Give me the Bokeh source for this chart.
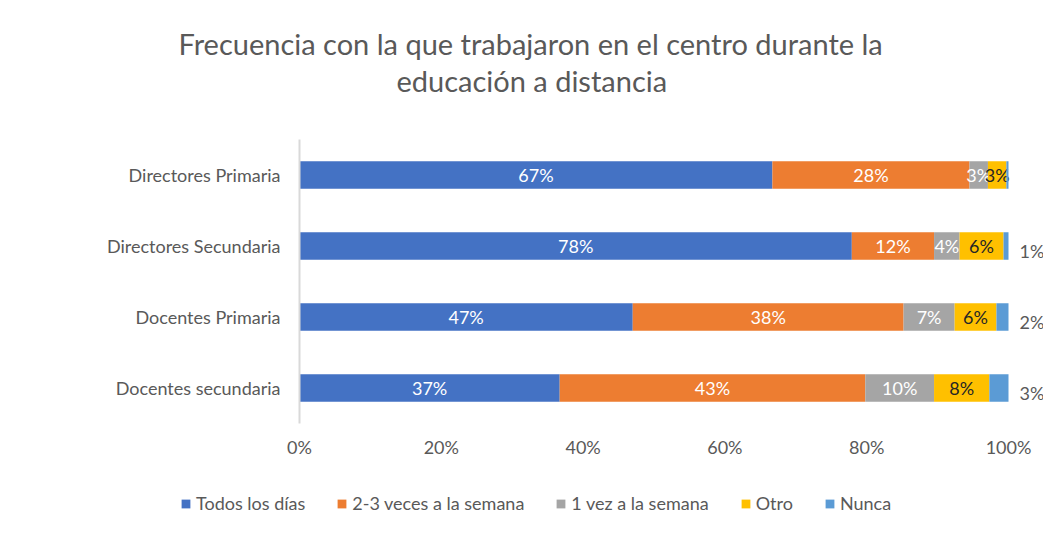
from bokeh.plotting import figure
from bokeh.layouts import column
from bokeh.models import (ColumnDataSource, FactorRange, Range1d, FixedTicker, Legend,
                          LegendItem, Title, CustomJSTickFormatter)
from bokeh.core.properties import value
from bokeh.embed import file_html
from bokeh.resources import INLINE

categories = ["Directores Primaria", "Directores Secundaria", "Docentes Primaria", "Docentes secundaria"]
series = ["Todos los días", "2-3 veces a la semana", "1 vez a la semana", "Otro", "Nunca"]
todos = [66.7, 77.9, 47.0, 36.7]
veces23 = [27.8, 11.6, 38.2, 43.1]
vez1 = [2.6, 3.6, 7.2, 9.7]
otro = [2.6, 6.2, 5.9, 7.8]
nunca = [0.3, 0.7, 1.7, 2.7]
title_lines = ["Frecuencia con la que trabajaron en el centro durante la", "educación a distancia"]
xticks = [0, 20, 40, 60, 80, 100]

colors = ["#4472C4", "#ED7D31", "#A5A5A5", "#FFC000", "#5B9BD5"]
label_colors = ["#FFFFFF", "#FFFFFF", "#FFFFFF", "#262626", "#595959"]
FONT = "Lato"
FS = "18px"

W, H1, H2 = 1043, 480, 53
left, top, bottom = 299, 139, 57
px_per_unit = 709 / 100.0

p = figure(width=W, height=H1, output_backend="svg", toolbar_location=None,
           y_range=FactorRange(factors=list(reversed(categories))),
           x_range=Range1d(0, (W - left) / px_per_unit),
           min_border_left=left, min_border_right=0,
           min_border_top=top, min_border_bottom=bottom)
p.outline_line_color = None
p.background_fill_color = "white"
p.border_fill_color = "white"
p.xgrid.grid_line_color = None
p.ygrid.grid_line_color = None

# legend strip (separate figure so the legend can start left of the bar frame)
lg = figure(width=W, height=H2, output_backend="svg", toolbar_location=None,
            x_range=Range1d(0, 100), y_range=FactorRange(factors=list(reversed(categories))),
            x_axis_type=None, y_axis_type=None,
            min_border_left=0, min_border_right=0, min_border_top=0, min_border_bottom=0)
lg.outline_line_color = None
lg.grid.grid_line_color = None
try:
    lg.frame_align = False
except Exception:
    pass

data = [todos, veces23, vez1, otro, nunca]
items = []
starts = [0.0] * len(categories)
for i, vals in enumerate(data):
    ends = [s + v for s, v in zip(starts, vals)]
    src = ColumnDataSource(dict(cat=categories, left=starts, right=ends,
                                mid=[(s + e) / 2 for s, e in zip(starts, ends)],
                                lab=[f"{round(v)}%" if v >= 0.5 else "" for v in vals]))
    p.hbar(y="cat", left="left", right="right", height=0.39, source=src,
           fill_color=colors[i], line_color=None)
    lr = lg.hbar(y="cat", left="left", right="right", height=0.39, source=src,
                 fill_color=colors[i], line_color=None, visible=False)
    items.append(LegendItem(label=series[i], renderers=[lr]))
    if i < 4:
        p.text(x="mid", y="cat", text="lab", source=src, text_align="center",
               text_baseline="middle", text_font=value(FONT), text_font_size=FS,
               text_color=label_colors[i])
    else:
        p.text(x="right", y="cat", text="lab", source=src, text_align="left",
               text_baseline="middle", text_font=value(FONT), text_font_size=FS,
               text_color=label_colors[i], x_offset=11, y_offset=5)
    starts = ends

p.xaxis.ticker = FixedTicker(ticks=xticks)
p.xaxis.formatter = CustomJSTickFormatter(code="return tick + '%';")
p.xaxis.axis_line_color = None
p.xaxis.major_tick_line_color = None
p.xaxis.minor_tick_line_color = None
p.xaxis.major_label_text_font = FONT
p.xaxis.major_label_text_font_size = FS
p.xaxis.major_label_text_color = "#595959"
p.xaxis.major_label_standoff = 6

p.yaxis.axis_line_color = "#D9D9D9"
p.yaxis.axis_line_width = 2
p.yaxis.major_tick_line_color = None
p.yaxis.minor_tick_line_color = None
p.yaxis.major_label_text_font = FONT
p.yaxis.major_label_text_font_size = FS
p.yaxis.major_label_text_color = "#595959"
p.yaxis.major_label_standoff = 13

p.title.text = title_lines[0]
p.title.align = "left"
p.title.offset = -121
p.title.text_font = FONT
p.title.text_font_size = "29px"
p.title.text_font_style = "normal"
p.title.text_color = "#595959"
p.title.standoff = 0
p.add_layout(Title(text=" ", text_font_size="10px", standoff=29), "above")
p.add_layout(Title(text=title_lines[1], align="left", offset=97, text_font=FONT,
                   text_font_size="29px", text_font_style="normal", text_color="#595959",
                   standoff=0), "above")

legend = Legend(items=items, orientation="horizontal", location=(180, 19),
                glyph_width=11, glyph_height=11, label_standoff=5, spacing=31,
                padding=0, margin=0, border_line_color=None, background_fill_alpha=0,
                label_text_font=FONT, label_text_font_size=FS, label_text_color="#595959")
lg.add_layout(legend, "center")

layout = column(p, lg, spacing=0)
open("out.html", "w").write(file_html(layout, INLINE))
